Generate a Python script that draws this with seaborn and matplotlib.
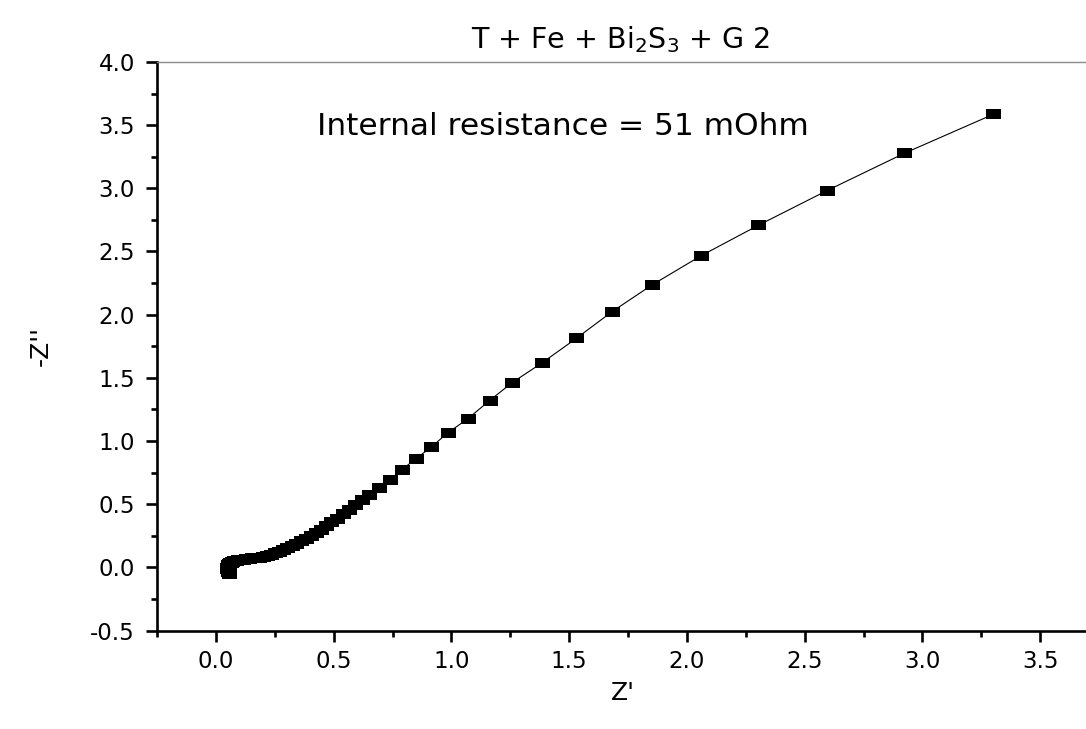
import numpy as np
import pandas as pd
import matplotlib
matplotlib.use("Agg")
import matplotlib.pyplot as plt
from matplotlib.ticker import MultipleLocator
import seaborn as sns

# ---- data ----
z_real = [0.057, 0.055, 0.052, 0.050, 0.049, 0.049, 0.050, 0.052, 0.055, 0.059,
          0.064, 0.070, 0.077, 0.085, 0.094, 0.104, 0.115, 0.127, 0.140, 0.154,
          0.169, 0.184, 0.200, 0.216, 0.233, 0.250, 0.267, 0.285, 0.303, 0.322,
          0.341, 0.361, 0.381, 0.402, 0.423, 0.445, 0.467, 0.490, 0.514, 0.539,
          0.565, 0.592, 0.620, 0.651, 0.691, 0.739, 0.790, 0.850, 0.914, 0.984,
          1.069, 1.162, 1.258, 1.386, 1.531, 1.680, 1.850, 2.058, 2.303, 2.594,
          2.923, 3.300]
z_imag = [-0.055, -0.045, -0.035, -0.024, -0.013, -0.003, 0.007, 0.016, 0.024, 0.031,
          0.037, 0.042, 0.047, 0.051, 0.055, 0.058, 0.061, 0.064, 0.067, 0.070,
          0.073, 0.077, 0.083, 0.090, 0.099, 0.110, 0.122, 0.135, 0.150, 0.167,
          0.185, 0.205, 0.226, 0.249, 0.273, 0.299, 0.326, 0.355, 0.386, 0.419,
          0.454, 0.492, 0.532, 0.574, 0.629, 0.695, 0.774, 0.861, 0.951, 1.064,
          1.175, 1.320, 1.462, 1.620, 1.813, 2.021, 2.233, 2.464, 2.707, 2.981,
          3.277, 3.585]

x_ticks = [0.0, 0.5, 1.0, 1.5, 2.0, 2.5, 3.0, 3.5]
y_ticks = [-0.5, 0.0, 0.5, 1.0, 1.5, 2.0, 2.5, 3.0, 3.5, 4.0]
x_tick_labels = ["0.0", "0.5", "1.0", "1.5", "2.0", "2.5", "3.0", "3.5"]
y_tick_labels = ["-0.5", "0.0", "0.5", "1.0", "1.5", "2.0", "2.5", "3.0", "3.5", "4.0"]

title_text = "T + Fe + Bi$_2$S$_3$ + G 2"
annotation_text = "Internal resistance = 51 mOhm"
x_label = "Z'"
y_label = "-Z''"

df = pd.DataFrame({"Zre": z_real, "Zim": z_imag})

sns.set_theme(style="ticks")
plt.rcParams["font.family"] = ["DejaVu Sans"]
plt.rcParams["mathtext.default"] = "regular"

fig = plt.figure(figsize=(10.86, 7.29), dpi=100)
ax = fig.add_axes([0.1446, 0.1351, 0.8674, 0.7799])

rect = [(-1.0, -0.71), (1.0, -0.71), (1.0, 0.71), (-1.0, 0.71), (-1.0, -0.71)]
sns.lineplot(data=df, x="Zre", y="Zim", sort=False, estimator=None, ax=ax,
             color="black", linewidth=0.8, marker=rect, markersize=10.8,
             markeredgewidth=0, markerfacecolor="black")

ax.set_xlim(-0.25, 3.75)
ax.set_ylim(-0.5, 4.0)
ax.set_xticks(x_ticks)
ax.set_xticklabels(x_tick_labels)
ax.set_yticks(y_ticks)
ax.set_yticklabels(y_tick_labels)
ax.xaxis.set_minor_locator(MultipleLocator(0.25))
ax.yaxis.set_minor_locator(MultipleLocator(0.25))

ax.tick_params(axis="both", which="major", direction="out", length=8, width=1.9,
               labelsize=16.5, color="black", labelcolor="black")
ax.tick_params(axis="both", which="minor", direction="out", length=4, width=1.9,
               color="black")
ax.tick_params(axis="x", which="both", pad=6, top=False)
ax.tick_params(axis="y", which="both", pad=8, right=False)

for side in ["left", "bottom"]:
    ax.spines[side].set_linewidth(1.9)
    ax.spines[side].set_color("black")
ax.spines["top"].set_visible(True)
ax.spines["top"].set_linewidth(1.0)
ax.spines["top"].set_color("#8a8a8a")
ax.spines["right"].set_visible(False)

ax.set_xlabel(x_label, fontsize=18, color="black")
ax.set_ylabel(y_label, fontsize=18, color="black")
ax.xaxis.set_label_coords(0.494, -0.088)
ax.yaxis.set_label_coords(-0.111, 0.5)

ax.text(0.43, 3.42, annotation_text, fontsize=22.5, ha="left", va="baseline",
        color="black")

fig.text(0.5714, 0.945, title_text, fontsize=20.5, ha="center", va="center",
         color="black")

fig.savefig("out.png", dpi=100, facecolor="white")
